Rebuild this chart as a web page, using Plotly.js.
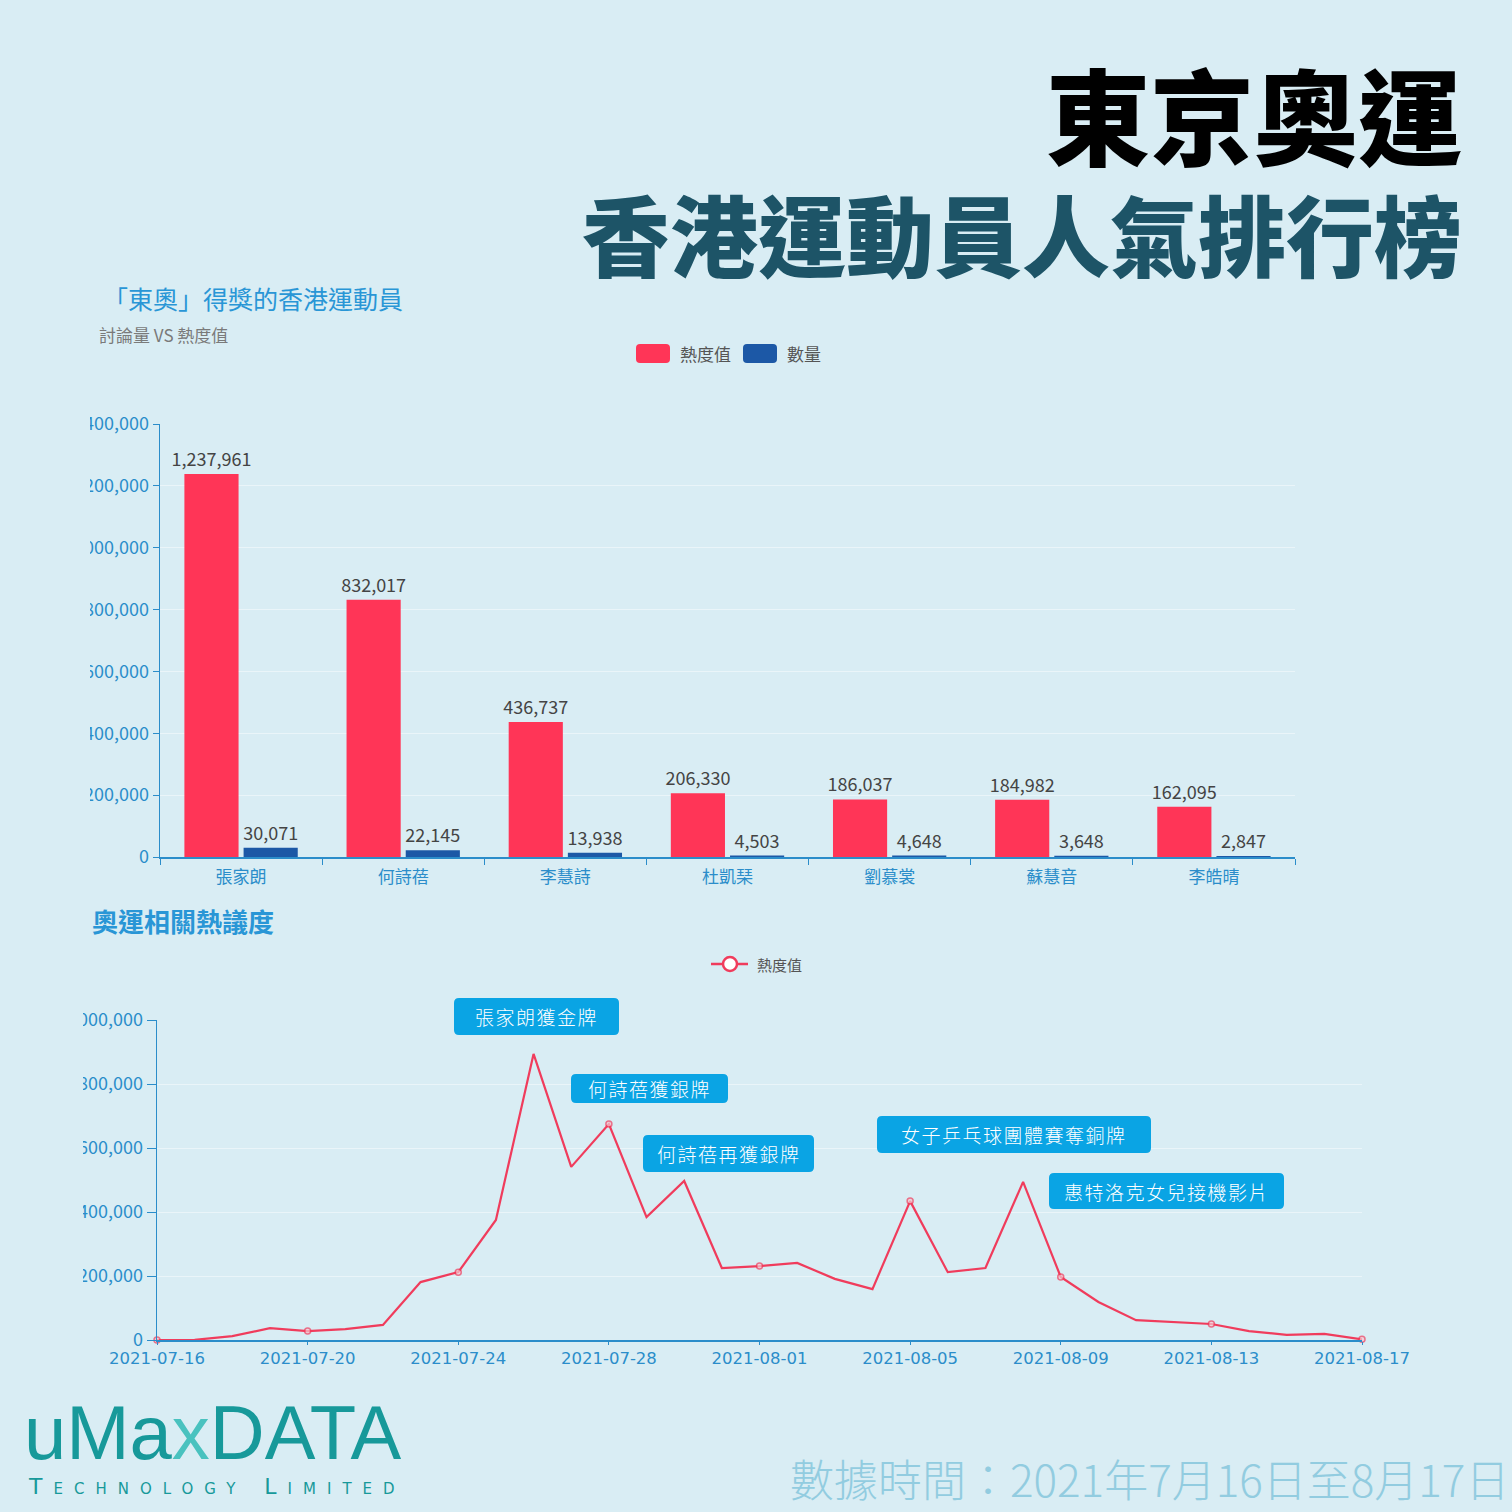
<!DOCTYPE html>
<html>
<head>
<meta charset="utf-8">
<script src="https://cdn.plot.ly/plotly-3.0.1.min.js"></script>
<style>html,body{margin:0;padding:0;background:#d9edf4;}</style>
</head>
<body>
<div id="chart" style="width:1512px;height:1512px;"></div>
<script>
// ---- data ----
const athletes = ['張家朗', '何詩蓓', '李慧詩', '杜凱琹', '劉慕裳', '蘇慧音', '李皓晴'];
const heatValues = [1237961, 832017, 436737, 206330, 186037, 184982, 162095];
const countValues = [30071, 22145, 13938, 4503, 4648, 3648, 2847];

const dates = ['2021-07-16','2021-07-17','2021-07-18','2021-07-19','2021-07-20','2021-07-21','2021-07-22',
  '2021-07-23','2021-07-24','2021-07-25','2021-07-26','2021-07-27','2021-07-28','2021-07-29','2021-07-30',
  '2021-07-31','2021-08-01','2021-08-02','2021-08-03','2021-08-04','2021-08-05','2021-08-06','2021-08-07',
  '2021-08-08','2021-08-09','2021-08-10','2021-08-11','2021-08-12','2021-08-13','2021-08-14','2021-08-15',
  '2021-08-16','2021-08-17'];
const dailyHeat = [0, 500, 12000, 37000, 28000, 34000, 47000,
  181000, 212000, 375000, 894000, 541000, 675000, 384000, 497000,
  225000, 231000, 241000, 191000, 159000, 434000, 212000, 225000,
  494000, 197000, 119000, 62000, 56000, 50000, 28000, 16000,
  19000, 2000];

const events = ['張家朗獲金牌', '何詩蓓獲銀牌', '何詩蓓再獲銀牌', '女子乒乓球團體賽奪銅牌', '惠特洛克女兒接機影片'];

// ---- helpers ----
const W = 1512, H = 1512;
const px = x => x / W;
const py = y => 1 - y / H;
const BG = '#d9edf4';
const RED = '#ff3557';
const BLUE = '#1c58a6';
const AXIS = '#2b8dca';
const FONT = '"Noto Sans CJK TC", "Noto Sans CJK SC", sans-serif';

function rr(x0, y0, x1, y1, r, fill) {
  const P = (x, y) => px(x) + ',' + py(y);
  const path = 'M' + P(x0 + r, y0) + ' L' + P(x1 - r, y0) + ' Q' + P(x1, y0) + ' ' + P(x1, y0 + r) +
    ' L' + P(x1, y1 - r) + ' Q' + P(x1, y1) + ' ' + P(x1 - r, y1) +
    ' L' + P(x0 + r, y1) + ' Q' + P(x0, y1) + ' ' + P(x0, y1 - r) +
    ' L' + P(x0, y0 + r) + ' Q' + P(x0, y0) + ' ' + P(x0 + r, y0) + ' Z';
  return {type: 'path', xref: 'paper', yref: 'paper', path: path, fillcolor: fill, line: {width: 0}, layer: 'above'};
}
function txt(text, x, y, size, color, xanchor, extra) {
  return Object.assign({
    text: text, x: px(x), y: py(y), xref: 'paper', yref: 'paper', xanchor: xanchor || 'left', yanchor: 'middle',
    showarrow: false, font: {family: FONT, size: size, color: color}
  }, extra || {});
}

// marker sizes: only every 4th day marked (as in the reference)
const markerSizes = dates.map((d, i) => (i % 4 === 0 ? 6 : 0));

const barTextFont = {family: FONT, size: 18, color: '#444'};
const traces = [
  {type: 'bar', name: '熱度值', x: athletes, y: heatValues, xaxis: 'x', yaxis: 'y',
   marker: {color: RED}, text: heatValues, texttemplate: '%{y:,}', textposition: 'outside', constraintext: 'none',
   textfont: barTextFont, cliponaxis: false, showlegend: false},
  {type: 'bar', name: '數量', x: athletes, y: countValues, xaxis: 'x', yaxis: 'y',
   marker: {color: BLUE}, text: countValues, texttemplate: '%{y:,}', textposition: 'outside', constraintext: 'none',
   textfont: barTextFont, cliponaxis: false, showlegend: false},
  {type: 'scatter', mode: 'lines+markers', name: '熱度值', x: dates, y: dailyHeat, xaxis: 'x2', yaxis: 'y2',
   line: {color: '#f03c5c', width: 2.2}, cliponaxis: false,
   marker: {size: markerSizes, color: '#f7c9d2', line: {color: '#f03c5c', width: 1.5}}, showlegend: false}
];

// event boxes (pixel geometry of the label boxes)
const boxes = [
  [454, 998, 619, 1035],
  [571, 1074, 728, 1103],
  [643, 1135, 814, 1172],
  [877, 1116, 1151, 1153],
  [1049, 1173, 1284, 1209]
];
const BOXC = '#0aa4e4';

const shapes = [];
const annotations = [];

boxes.forEach((b, i) => {
  shapes.push(rr(b[0], b[1], b[2], b[3], 5, BOXC));
  annotations.push(txt('<span style="letter-spacing:1.5px">' + events[i] + '</span>', (b[0] + b[2]) / 2, (b[1] + b[3]) / 2, 19, '#ffffff', 'center',
    {font: {family: FONT, size: 19, color: '#ffffff', weight: 300}}));
});

// legend 1 swatches
shapes.push(rr(636, 344, 670, 363, 4, RED));
shapes.push(rr(743, 344, 777, 363, 4, BLUE));
annotations.push(txt('熱度值', 678, 353, 17, '#555555', 'left'));
annotations.push(txt('數量', 785, 353, 17, '#555555', 'left'));
// legend 2
shapes.push({type: 'line', xref: 'paper', yref: 'paper', x0: px(711), x1: px(748), y0: py(964), y1: py(964), line: {color: '#f03c5c', width: 2.5}, layer: 'above'});
shapes.push({type: 'circle', xref: 'paper', yref: 'paper', x0: px(723), x1: px(737), y0: py(971), y1: py(957), fillcolor: '#ffffff', line: {color: '#f03c5c', width: 2.5}, layer: 'above'});
annotations.push(txt('熱度值', 755, 964, 15, '#555555', 'left'));

// cropped-edge masks over the y tick labels (as in the reference image)
shapes.push({type: 'rect', xref: 'paper', yref: 'paper', x0: 0, x1: px(90), y0: py(872), y1: py(405), fillcolor: BG, line: {width: 0}, layer: 'above'});
shapes.push({type: 'rect', xref: 'paper', yref: 'paper', x0: 0, x1: px(83), y0: py(1350), y1: py(1005), fillcolor: BG, line: {width: 0}, layer: 'above'});

// main title (two lines in one text block)
annotations.push({
  text: '<span style="font-size:104px;color:#000000">東京奧運</span><br><span style="font-size:88px;color:#1d5467">香港運動員人氣排行榜</span>',
  x: px(1464), y: py(166), xref: 'paper', yref: 'paper', xanchor: 'right', yanchor: 'middle', align: 'right',
  showarrow: false, font: {family: FONT, size: 86, color: '#1d5467', weight: 900}
});
annotations.push(txt('「東奧」得獎的香港運動員', 101, 298, 25, '#2996d6', 'left'));
annotations.push(txt('討論量 VS 熱度值', 97, 334, 17, '#7a7a7a', 'left'));
annotations.push(txt('奧運相關熱議度', 90, 920, 26, '#2996d6', 'left', {font: {family: FONT, size: 26, color: '#2996d6', weight: 700}}));

// logo + footer
annotations.push(txt('uMa<span style="color:#49c2bf">x</span>DATA', 22, 1432, 76, '#17999a', 'left', {font: {family: '"Liberation Sans", sans-serif', size: 76, color: '#17999a'}}));
annotations.push(txt('<span style="letter-spacing:11px">Technology Limited</span>', 26, 1486, 22, '#17999a', 'left', {font: {family: '"DejaVu Sans", sans-serif', size: 22, color: '#17999a', variant: 'small-caps'}}));
annotations.push(txt('數據時間：2021年7月16日至8月17日', 1511, 1478, 44, '#92cce0', 'right', {font: {family: FONT, size: 44, color: '#92cce0', weight: 300}}));

const tickFont = {family: FONT, size: 18, color: AXIS};

const layout = {
  width: W, height: H,
  margin: {l: 0, r: 0, t: 0, b: 0},
  paper_bgcolor: BG, plot_bgcolor: BG,
  showlegend: false,
  barmode: 'group', bargap: 0.27, bargroupgap: 0.085,
  xaxis: {domain: [px(160), px(1295)], anchor: 'y', type: 'category', showline: true, linecolor: AXIS, linewidth: 1.5,
    ticks: 'outside', tickson: 'boundaries', ticklen: 6, tickcolor: AXIS, showgrid: false, zeroline: false,
    ticklabelstandoff: 4, tickfont: {family: FONT, size: 17, color: AXIS}},
  yaxis: {domain: [py(857), py(424)], anchor: 'x', range: [0, 1400000], dtick: 200000, tickformat: ',',
    showline: true, linecolor: AXIS, linewidth: 1.5, ticks: 'outside', ticklen: 6, tickcolor: AXIS,
    showgrid: true, gridcolor: 'rgba(255,255,255,0.45)', zeroline: false, tickfont: tickFont},
  xaxis2: {domain: [px(157), px(1362)], anchor: 'y2', type: 'date', range: ['2021-07-16', '2021-08-17'],
    tick0: '2021-07-16', dtick: 4 * 86400000, tickformat: '%Y-%m-%d', showline: true, linecolor: AXIS, linewidth: 1.5,
    ticks: 'outside', ticklen: 3, tickcolor: AXIS, showgrid: false, zeroline: false,
    tickfont: {family: '"DejaVu Sans", sans-serif', size: 16.5, color: AXIS}},
  yaxis2: {domain: [py(1340), py(1020)], anchor: 'x2', range: [0, 1000000], dtick: 200000, tickformat: ',',
    showline: true, linecolor: AXIS, linewidth: 1.5, ticks: 'outside', ticklen: 9, tickcolor: AXIS,
    showgrid: true, gridcolor: 'rgba(255,255,255,0.45)', zeroline: false, tickfont: tickFont},
  shapes: shapes,
  annotations: annotations
};

Plotly.newPlot('chart', traces, layout, {staticPlot: true, displayModeBar: false});
</script>
</body>
</html>
